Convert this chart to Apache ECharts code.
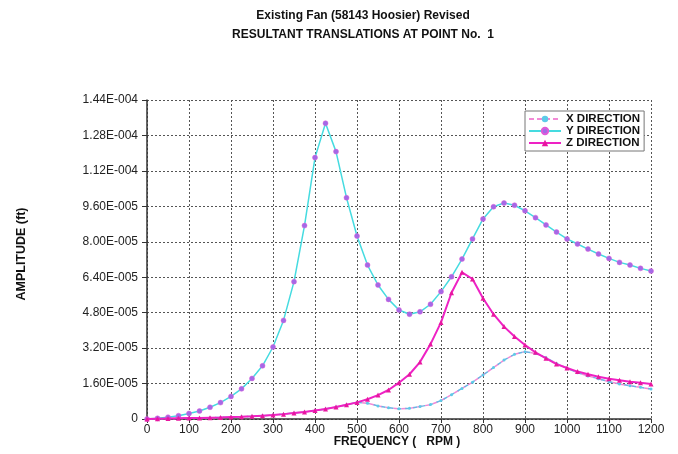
<!DOCTYPE html>
<html>
<head>
<meta charset="utf-8">
<script src="https://cdn.jsdelivr.net/npm/echarts@6/dist/echarts.min.js"></script>
<style>
  html, body { margin: 0; padding: 0; background: #fff; }
  #chart { width: 678px; height: 454px; }
</style>
</head>
<body>
<div id="chart"></div>
<script>
// Frequency sweep, 0..1200 RPM in 25 RPM steps
const rpm = [
  0, 25, 50, 75, 100, 125, 150, 175, 200, 225, 250, 275, 300, 325, 350, 375,
  400, 425, 450, 475, 500, 525, 550, 575, 600, 625, 650, 675, 700, 725, 750, 775,
  800, 825, 850, 875, 900, 925, 950, 975, 1000, 1025, 1050, 1075, 1100, 1125, 1150, 1175, 1200
];

// Resultant translation amplitudes, in micro-feet (1e-6 ft)
const xDirection = [
  0, 0.1, 0.2, 0.3, 0.4, 0.5, 0.6, 0.7, 0.9, 1.0, 1.2, 1.5, 1.8, 2.2, 2.7, 3.2,
  3.8, 4.5, 5.4, 6.4, 7.5, 7.1, 5.9, 5.1, 4.6, 4.8, 5.6, 6.5, 8.3, 11.0, 13.8, 16.6,
  19.9, 23.2, 26.6, 29.2, 30.4, 29.6, 27.7, 25.1, 22.9, 20.9, 19.4, 18.2, 16.8, 15.8, 15.0, 14.3, 13.5
];
const yDirection = [
  0, 0.3, 0.8, 1.5, 2.5, 3.6, 5.3, 7.4, 10.2, 13.6, 18.3, 24.0, 32.5, 44.5, 62.0, 87.3,
  118.0, 133.5, 120.7, 99.9, 82.6, 69.5, 60.5, 54.0, 49.2, 47.3, 48.4, 51.8, 57.5, 64.2, 72.2, 81.3,
  90.3, 95.8, 97.5, 96.5, 94.0, 90.9, 87.6, 84.4, 81.3, 79.0, 76.7, 74.5, 72.5, 70.7, 69.5, 68.0, 66.8
];
const zDirection = [
  0, 0.1, 0.2, 0.3, 0.4, 0.5, 0.6, 0.7, 0.9, 1.0, 1.2, 1.5, 1.8, 2.2, 2.7, 3.2,
  3.8, 4.5, 5.4, 6.4, 7.5, 8.9, 10.8, 13.1, 16.4, 20.2, 25.7, 33.8, 43.6, 57.0, 66.2, 63.2,
  54.5, 47.3, 41.7, 37.2, 33.4, 30.1, 27.4, 24.8, 23.0, 21.4, 20.2, 19.1, 18.2, 17.5, 16.8, 16.4, 15.8
];

const seriesNames = ['X DIRECTION', 'Y DIRECTION', 'Z DIRECTION'];
const titleLines = ['Existing Fan (58143 Hoosier) Revised', 'RESULTANT TRANSLATIONS AT POINT No.  1'];
const xAxisTitle = 'FREQUENCY (   RPM )';
const yAxisTitle = 'AMPLITUDE (ft)';

const FONT = '"Liberation Sans", Arial, sans-serif';
const pairs = (ys) => rpm.map((r, i) => [r, ys[i]]);

// "1.44E-004" style labels from micro-feet tick values
function sciLabel(v) {
  if (Math.abs(v) < 1e-9) return '0';
  const s = (v * 1e-6).toExponential(2);
  const parts = s.split('e');
  const n = parseInt(parts[1], 10);
  return parts[0] + 'E' + (n < 0 ? '-' : '+') + String(Math.abs(n)).padStart(3, '0');
}

const chart = echarts.init(document.getElementById('chart'), null, { renderer: 'canvas' });

const gridLine = { show: true, lineStyle: { color: '#555', type: [2, 2], width: 1 } };

chart.setOption({
  animation: false,
  backgroundColor: '#fff',
  grid: { left: 147, right: 27, top: 100, bottom: 35 },
  graphic: [
    { type: 'text', x: 363, y: 16, style: { text: titleLines[0], textAlign: 'center', textVerticalAlign: 'middle', font: 'bold 12px ' + FONT, fill: '#111' } },
    { type: 'text', x: 363, y: 35, style: { text: titleLines[1], textAlign: 'center', textVerticalAlign: 'middle', font: 'bold 12px ' + FONT, fill: '#111' } },
    { type: 'text', x: 397, y: 442, style: { text: xAxisTitle, textAlign: 'center', textVerticalAlign: 'middle', font: 'bold 12px ' + FONT, fill: '#111' } },
    { type: 'text', x: 22, y: 254, rotation: Math.PI / 2, style: { text: yAxisTitle, textAlign: 'center', textVerticalAlign: 'middle', font: 'bold 12.5px ' + FONT, fill: '#111' } }
  ],
  legend: {
    orient: 'vertical',
    left: 525,
    top: 111,
    data: seriesNames,
    itemWidth: 32,
    itemHeight: 8,
    itemGap: 0,
    padding: [2, 4, 2, 3],
    backgroundColor: '#fff',
    borderColor: '#777',
    borderWidth: 1,
    borderRadius: 0,
    textStyle: { fontFamily: FONT, fontWeight: 'bold', fontSize: 11.5, color: '#111', lineHeight: 11 }
  },
  xAxis: {
    type: 'value',
    min: 0,
    max: 1200,
    interval: 100,
    axisLine: { show: true, onZero: false, lineStyle: { color: '#333', width: 1.5 } },
    axisTick: { show: true, inside: false, length: 4, lineStyle: { color: '#333' } },
    axisLabel: { fontFamily: FONT, fontSize: 12, color: '#222', margin: 5, formatter: (v) => String(v) },
    splitLine: gridLine
  },
  yAxis: {
    type: 'value',
    min: 0,
    max: 144,
    interval: 16,
    axisLine: { show: true, onZero: false, lineStyle: { color: '#333', width: 1.5 } },
    axisTick: { show: true, inside: false, length: 5, lineStyle: { color: '#333' } },
    axisLabel: { fontFamily: FONT, fontSize: 12, color: '#222', margin: 9, formatter: sciLabel },
    splitLine: gridLine
  },
  series: [
    {
      name: seriesNames[0],
      type: 'line',
      data: pairs(xDirection),
      symbol: 'circle',
      symbolSize: 3,
      showSymbol: true,
      itemStyle: { color: '#5ccbe8' },
      lineStyle: { color: '#f28ad6', width: 1.5, type: [5, 3] },
      z: 2
    },
    {
      // cyan dashes interleaved with the pink X line
      name: 'x-dash',
      type: 'line',
      data: pairs(xDirection),
      symbol: 'none',
      lineStyle: { color: '#6ab4e4', width: 1.5, type: [4, 4], dashOffset: 4 },
      silent: true,
      z: 2
    },
    {
      name: seriesNames[1],
      type: 'line',
      data: pairs(yDirection),
      symbol: 'circle',
      symbolSize: 5,
      showSymbol: true,
      itemStyle: { color: '#a36ae6', borderColor: '#e05ad8', borderWidth: 0.5 },
      lineStyle: { color: '#45dbe0', width: 1.5 },
      z: 3
    },
    {
      name: seriesNames[2],
      type: 'line',
      data: pairs(zDirection),
      symbol: 'triangle',
      symbolSize: 5,
      showSymbol: true,
      itemStyle: { color: '#e8179f' },
      lineStyle: { color: '#ee22c4', width: 2 },
      z: 4
    }
  ]
});
</script>
</body>
</html>
